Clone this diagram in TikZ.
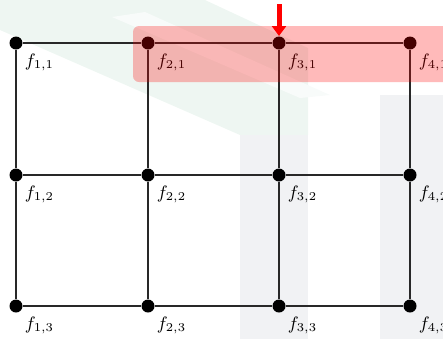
\documentclass[tikz,border=0pt]{standalone}
\usepackage{amsmath}
\usepackage{tikz}
\usetikzlibrary{positioning,arrows.meta}
\definecolor{wmgreen}{RGB}{238,246,242}
\definecolor{wmgray}{RGB}{241,242,244}
\definecolor{edgegray}{RGB}{40,40,40}

\tikzset{
  dot/.style={circle,fill=black,inner sep=0pt,minimum size=6.5pt},
  lbl/.style={inner sep=1pt,font=\small},
  edge/.style={draw=edgegray,line width=1pt},
  rowmark/.style={fill=red,fill opacity=0.27,rounded corners=3pt}
}

\begin{document}
\begin{tikzpicture}[x=0.5pt,y=-0.5pt]
\useasboundingbox (0,0) rectangle (443,339);

%%% watermark %%%%
\fill[wmgreen] (0,0) -- (205,0) -- (308,48) -- (308,135) -- (240,135) -- (0,30) -- cycle;
\fill[white!60!wmgreen] (112,17) -- (145,12) -- (330,95) -- (300,98) -- cycle;
\fill[wmgray] (240,135) rectangle (308,339);
\fill[wmgray] (380,95) rectangle (443,339);

%%% grid %%%%
%% nodes
\node[dot] (f11) at (16,43) {};
\node[dot] (f21) at (148,43) {};
\node[dot] (f31) at (279,43) {};
\node[dot] (f41) at (410,43) {};
\node[dot] (f12) at (16,175) {};
\node[dot] (f22) at (148,175) {};
\node[dot] (f32) at (279,175) {};
\node[dot] (f42) at (410,175) {};
\node[dot] (f13) at (16,306) {};
\node[dot] (f23) at (148,306) {};
\node[dot] (f33) at (279,306) {};
\node[dot] (f43) at (410,306) {};

%% edges
\draw[edge] (f11) -- (f21) -- (f31) -- (f41);
\draw[edge] (f12) -- (f22) -- (f32) -- (f42);
\draw[edge] (f13) -- (f23) -- (f33) -- (f43);
\draw[edge] (f11) -- (f12) -- (f13);
\draw[edge] (f21) -- (f22) -- (f23);
\draw[edge] (f31) -- (f32) -- (f33);
\draw[edge] (f41) -- (f42) -- (f43);

%% labels
\node[lbl,below right=2pt and 0.8pt of f11] (l11) {$f_{1,1}$};
\node[lbl,below right=2pt and 0.8pt of f21] (l21) {$f_{2,1}$};
\node[lbl,below right=2pt and 0.8pt of f31] (l31) {$f_{3,1}$};
\node[lbl,below right=2pt and 0.8pt of f41] (l41) {$f_{4,1}$};
\node[lbl,below right=2pt and 0.8pt of f12] (l12) {$f_{1,2}$};
\node[lbl,below right=2pt and 0.8pt of f22] (l22) {$f_{2,2}$};
\node[lbl,below right=2pt and 0.8pt of f32] (l32) {$f_{3,2}$};
\node[lbl,below right=2pt and 0.8pt of f42] (l42) {$f_{4,2}$};
\node[lbl,below right=2pt and 0.8pt of f13] (l13) {$f_{1,3}$};
\node[lbl,below right=2pt and 0.8pt of f23] (l23) {$f_{2,3}$};
\node[lbl,below right=2pt and 0.8pt of f33] (l33) {$f_{3,3}$};
\node[lbl,below right=2pt and 0.8pt of f43] (l43) {$f_{4,3}$};

%% highlighted row
\fill[rowmark] (133,26) rectangle (460,82);

%% pointer
\coordinate (ptop) at (279,4);
\coordinate (ptip) at (279,36);
\draw[white,line width=3.5pt,-{Triangle[width=9pt,length=6.5pt]}] (ptop) -- ([yshift=1pt]ptip);
\draw[red,line width=2.5pt,-{Triangle[width=7pt,length=5pt]}] (ptop) -- (ptip);
\end{tikzpicture}
\end{document}
